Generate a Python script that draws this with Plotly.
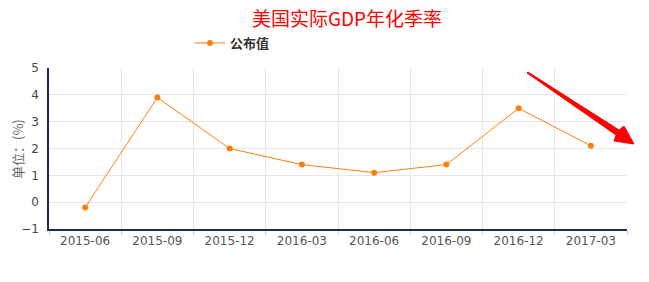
import plotly.graph_objects as go

categories = ["2015-06", "2015-09", "2015-12", "2016-03", "2016-06", "2016-09", "2016-12", "2017-03"]
values = [-0.2, 3.9, 2.0, 1.4, 1.1, 1.4, 3.5, 2.1]
series_name = "公布值"
title_text = "美国实际GDP年化季率"
y_title = "单位：(%)"

W, H = 649, 282
ML, MR, MT, MB = 49, 22, 68, 53
PW, PH = W - ML - MR, H - MT - MB

def px2paper(px, py):
    return (px - ML) / PW, (H - MB - py) / PH

arrow_px = [(528, 72), (619, 130), (624, 126), (634, 144), (614, 141), (616, 135), (527, 73)]
pts = [px2paper(x, y) for x, y in arrow_px]
path = "M " + " L ".join(f"{x:.4f},{y:.4f}" for x, y in pts) + " Z"

font = "Noto Sans CJK SC"
tickfont = "DejaVu Sans"
orange = "#ff7f0e"

fig = go.Figure()
fig.add_trace(go.Scatter(
    x=categories, y=values, name=series_name, mode="lines+markers",
    line=dict(color=orange, width=1),
    marker=dict(color=orange, size=6),
    cliponaxis=False,
))

ytx, yty = px2paper(17, 149)

fig.update_layout(
    width=W, height=H,
    margin=dict(l=ML, r=MR, t=MT, b=MB, autoexpand=False),
    paper_bgcolor="white", plot_bgcolor="white",
    font=dict(family=font, size=12, color="#555"),
    title=dict(text=title_text, x=347 / W, xanchor="center", y=1 - 19 / H, yanchor="middle",
               font=dict(family=font, size=19, color="#ff0000")),
    showlegend=True,
    legend=dict(orientation="h", x=(190 - ML) / PW, xanchor="left", y=(H - MB - 43) / PH, yanchor="middle",
                font=dict(family=font, size=13, color="#333", weight="bold"),
                bgcolor="rgba(0,0,0,0)"),
    xaxis=dict(
        type="category", range=[-0.5, len(categories) - 0.5],
        tickson="boundaries", showgrid=True, gridcolor="#e6e6e6", gridwidth=1,
        showline=True, linecolor="#1f2a56", linewidth=1.5,
        ticks="outside", ticklen=4, tickcolor="#cccccc",
        tickfont=dict(family=tickfont, size=12, color="#555"),
        zeroline=False, fixedrange=True, automargin=False,
    ),
    yaxis=dict(
        range=[-1, 5], dtick=1, showgrid=True, gridcolor="#e6e6e6", gridwidth=1,
        showline=True, linecolor="#1f2a56", linewidth=1.5,
        ticks="", ticklabelstandoff=6,
        tickfont=dict(family=tickfont, size=12, color="#444"),
        zeroline=False, automargin=False,
    ),
    annotations=[dict(text=y_title, xref="paper", yref="paper", x=ytx, y=yty,
                      xanchor="center", yanchor="middle", textangle=-90, showarrow=False,
                      font=dict(family=font, size=13, color="#666"))],
    shapes=[dict(type="path", xref="paper", yref="paper", path=path,
                 fillcolor="#ff0000", line=dict(color="#ff0000", width=1))],
)

fig.write_html("out.html")
